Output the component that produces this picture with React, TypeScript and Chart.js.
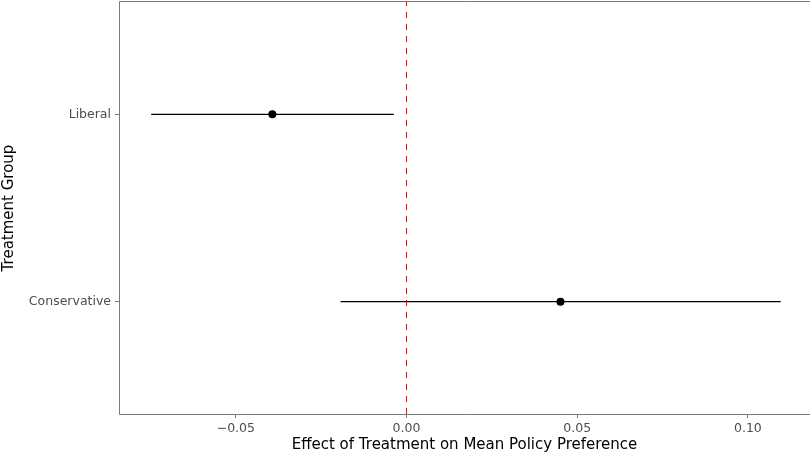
import React, { useEffect, useRef } from "react";
import { Chart, registerables } from "chart.js";

Chart.register(...registerables);

// ---- data ----
const groups = ["Liberal", "Conservative"];
const groupPositions = [2, 1];
const estimates = [-0.0393, 0.0451];
const lowerBounds = [-0.0748, -0.0193];
const upperBounds = [-0.0037, 0.1096];
const xTickValues = [-0.05, 0, 0.05, 0.1];
const xTickLabels = ["\u22120.05", "0.00", "0.05", "0.10"];
const referenceValue = 0;
const xLimits = [-0.08422, 0.11819];
const yLimits = [0.4, 2.6];
const xTitle = "Effect of Treatment on Mean Policy Preference";
const yTitle = "Treatment Group";

const FONT = "'DejaVu Sans', 'Liberation Sans', Arial, sans-serif";
const AXIS_GREY = "#7a7a7a";

const panelBorder = {
  id: "panelBorder",
  afterDatasetsDraw(chart: any) {
    const { ctx, chartArea } = chart;
    const l = Math.round(chartArea.left) + 0.5;
    const t = Math.round(chartArea.top) - 0.5;
    const b = Math.round(chartArea.bottom) + 0.5;
    const r = chartArea.right;
    ctx.save();
    ctx.strokeStyle = AXIS_GREY;
    ctx.lineWidth = 1;
    ctx.beginPath();
    ctx.moveTo(r, t);
    ctx.lineTo(l, t);
    ctx.lineTo(l, b);
    ctx.lineTo(r, b);
    ctx.stroke();
    ctx.restore();
  },
};

const zeroPadding = (scale: any) => {
  scale.paddingTop = 0;
  scale.paddingBottom = 0;
  scale.paddingLeft = 0;
  scale.paddingRight = 0;
};

export default function App() {
  const canvasRef = useRef<HTMLCanvasElement | null>(null);

  useEffect(() => {
    const canvas = canvasRef.current;
    if (!canvas) return;

    const pointData = groups.map((_, i) => ({ x: estimates[i], y: groupPositions[i] }));
    const ciDatasets = groups.map((g, i) => ({
      label: g + " CI",
      data: [
        { x: lowerBounds[i], y: groupPositions[i] },
        { x: upperBounds[i], y: groupPositions[i] },
      ],
      showLine: true,
      borderColor: "#000000",
      borderWidth: 1.1,
      pointRadius: 0,
      pointHoverRadius: 0,
    }));

    const chart = new Chart(canvas, {
      type: "scatter",
      data: {
        datasets: [
          {
            label: "Estimate",
            data: pointData,
            backgroundColor: "#000000",
            borderColor: "#000000",
            pointRadius: 4,
            pointHoverRadius: 4,
            borderWidth: 0,
          },
          {
            label: "Zero",
            data: [
              { x: referenceValue, y: yLimits[0] },
              { x: referenceValue, y: yLimits[1] },
            ],
            showLine: true,
            borderColor: "#ff0000",
            borderWidth: 1,
            borderDash: [6, 6],
            pointRadius: 0,
            pointHoverRadius: 0,
          },
          ...ciDatasets,
        ] as any,
      },
      options: {
        animation: false,
        responsive: false,
        devicePixelRatio: 1,
        events: [],
        layout: { autoPadding: false, padding: { top: 2, right: 0, bottom: 0, left: 0 } },
        plugins: {
          legend: { display: false },
          tooltip: { enabled: false },
          title: { display: false },
        },
        scales: {
          x: {
            type: "linear",
            min: xLimits[0],
            max: xLimits[1],
            afterBuildTicks: (scale: any) => {
              scale.ticks = xTickValues.map((v) => ({ value: v }));
            },
            afterFit: (scale: any) => {
              scale.height = 42;
              zeroPadding(scale);
            },
            border: { display: false },
            grid: {
              display: true,
              drawOnChartArea: false,
              drawTicks: true,
              tickLength: 4,
              tickColor: AXIS_GREY,
              lineWidth: 1,
            },
            ticks: {
              autoSkip: false,
              maxRotation: 0,
              padding: 3,
              color: "#4d4d4d",
              font: { family: FONT, size: 12.5 },
              callback: (value: any) => {
                const idx = xTickValues.findIndex((v) => Math.abs(v - Number(value)) < 1e-9);
                return idx >= 0 ? xTickLabels[idx] : "";
              },
            },
            title: {
              display: true,
              text: xTitle,
              color: "#000000",
              font: { family: FONT, size: 15 },
              padding: { top: 0, bottom: 1.5 },
            },
          },
          y: {
            type: "linear",
            min: yLimits[0],
            max: yLimits[1],
            afterBuildTicks: (scale: any) => {
              scale.ticks = groupPositions.map((v) => ({ value: v }));
            },
            afterFit: (scale: any) => {
              scale.width = 119;
              zeroPadding(scale);
            },
            border: { display: false },
            grid: {
              display: true,
              drawOnChartArea: false,
              drawTicks: true,
              tickLength: 4,
              tickColor: AXIS_GREY,
              lineWidth: 1,
            },
            ticks: {
              autoSkip: false,
              padding: 4,
              color: "#4d4d4d",
              font: { family: FONT, size: 12.5 },
              callback: (value: any) => {
                const idx = groupPositions.findIndex((v) => Math.abs(v - Number(value)) < 1e-9);
                return idx >= 0 ? groups[idx] : "";
              },
            },
            title: {
              display: true,
              text: yTitle,
              color: "#000000",
              font: { family: FONT, size: 15 },
              padding: { top: 0, bottom: 0 },
            },
          },
        },
      },
      plugins: [panelBorder],
    } as any);

    return () => {
      chart.destroy();
    };
  }, []);

  return (
    <div style={{ position: "fixed", left: 0, top: 0, width: 810, height: 456, background: "#ffffff" }}>
      <canvas ref={canvasRef} width={810} height={456} style={{ display: "block", width: 810, height: 456 }} />
    </div>
  );
}
